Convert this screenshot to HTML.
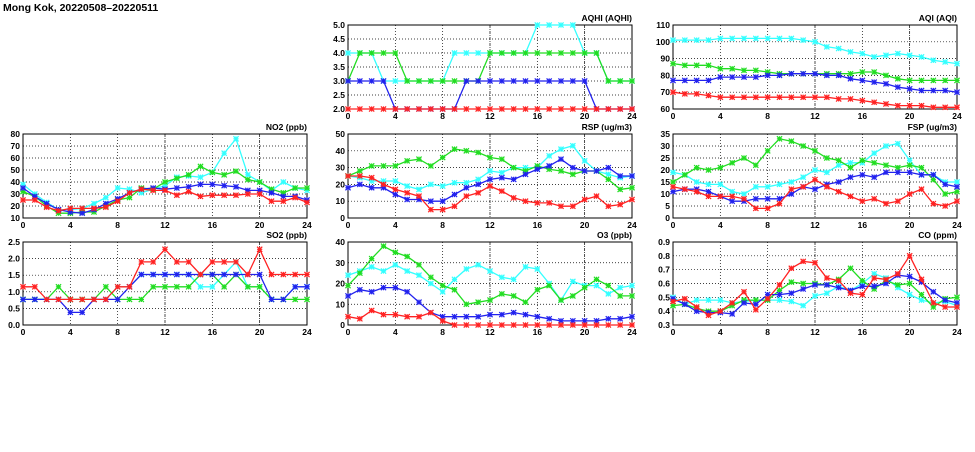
<!DOCTYPE html>
<html><head><meta charset="utf-8">
<style>
body{margin:0;background:#fff;width:975px;height:447px;overflow:hidden}
svg text{font-family:"Liberation Sans",sans-serif;font-weight:bold;fill:#000}
</style></head>
<body>
<svg id="c" width="975" height="447">
<text x="3" y="11" font-size="10.5">Mong Kok, 20220508–20220511</text>
</svg>
<script>
const hours=[0,1,2,3,4,5,6,7,8,9,10,11,12,13,14,15,16,17,18,19,20,21,22,23,24];
const seriesColors=["#33ffff","#22dd22","#2222ee","#ff2222"];
const no2Cyan=[38,30,23,17,17,18,22,27,35,34,31,34,37,44,45,44,48,64,76,46,40,33,40,35,33];
const no2Green=[32,28,20,14,14,15,15,20,25,27,35,34,40,43,46,53,48,46,49,42,40,34,31,35,35];
const no2Blue=[35,28,22,17,15,14,17,22,26,31,34,35,34,35,36,38,38,37,36,33,33,31,28,28,25];
const no2Red=[25,25,19,16,18,18,18,19,24,31,34,33,33,29,32,28,29,29,29,30,30,24,24,27,23];
const so2Cyan=[0.77,0.77,0.77,0.77,0.77,0.77,0.77,0.77,1.15,1.15,1.52,1.52,1.52,1.52,1.52,1.15,1.15,1.52,1.9,1.15,1.15,0.77,0.77,1.15,1.15];
const so2Green=[0.77,0.77,0.77,1.15,0.77,0.77,0.77,1.15,0.77,0.77,0.77,1.15,1.15,1.15,1.15,1.52,1.52,1.15,1.52,1.15,1.15,0.77,0.77,0.77,0.77];
const so2Blue=[0.77,0.77,0.77,0.77,0.38,0.38,0.77,0.77,0.77,1.15,1.52,1.52,1.52,1.52,1.52,1.52,1.52,1.52,1.52,1.52,1.52,0.77,0.77,1.15,1.15];
const so2Red=[1.15,1.15,0.77,0.77,0.77,0.77,0.77,0.77,1.15,1.15,1.9,1.9,2.28,1.9,1.9,1.52,1.9,1.9,1.9,1.52,2.28,1.52,1.52,1.52,1.52];
const aqhiCyan=[4,4,4,3,3,3,3,3,3,4,4,4,4,4,4,4,5,5,5,5,4,4,3,3,3];
const aqhiGreen=[3,4,4,4,4,3,3,3,3,3,3,3,4,4,4,4,4,4,4,4,4,4,3,3,3];
const aqhiBlue=[3,3,3,3,2,2,2,2,2,2,3,3,3,3,3,3,3,3,3,3,3,2,2,2,2];
const aqhiRed=[2,2,2,2,2,2,2,2,2,2,2,2,2,2,2,2,2,2,2,2,2,2,2,2,2];
const aqiCyan=[101,101,101,101,102,102,102,102,102,102,102,101,100,97,96,94,93,91,92,93,92,91,89,88,87];
const aqiGreen=[87,86,86,86,84,84,83,83,82,81,81,81,81,81,81,81,82,82,80,78,77,77,77,77,77];
const aqiBlue=[77,77,77,77,79,79,79,79,80,80,81,81,81,80,80,78,77,76,75,73,72,71,71,71,70];
const aqiRed=[70,69,69,68,67,67,67,67,67,67,67,67,67,67,66,66,65,64,63,62,62,62,61,61,61];
const rspCyan=[25,24,22,22,22,19,17,20,19,21,21,23,28,27,30,30,30,37,41,43,34,28,26,24,25];
const rspGreen=[25,28,31,31,31,34,35,31,36,41,40,39,36,35,30,28,31,29,28,26,28,28,23,17,18];
const rspBlue=[18,20,18,18,14,11,11,10,10,14,18,20,23,24,23,26,29,31,35,30,28,28,30,25,25];
const rspRed=[25,25,24,20,17,15,13,5,5,7,13,15,19,16,12,10,9,9,7,7,11,13,7,8,11];
const fspCyan=[19,18,15,14,14,11,10,13,13,14,15,17,20,19,22,23,23,27,30,31,24,18,18,15,15];
const fspGreen=[15,18,21,20,21,23,25,22,28,33,32,30,28,25,24,21,24,23,22,21,22,21,16,10,11];
const fspBlue=[11,12,12,11,9,7,7,8,8,8,10,13,12,14,15,17,18,17,19,19,19,18,18,14,13];
const fspRed=[13,12,11,9,9,9,8,4,4,6,12,13,16,13,11,9,7,8,6,7,10,12,6,5,7];
const o3Cyan=[24,26,28,26,29,26,24,20,16,22,27,29,26,23,22,28,27,20,12,21,19,19,15,18,19];
const o3Green=[19,25,32,38,35,33,29,23,19,17,10,11,12,15,14,11,17,19,12,14,18,22,19,14,14];
const o3Blue=[14,17,16,18,18,16,11,6,4,4,4,4,5,5,6,5,4,3,2,2,2,2,3,3,4];
const o3Red=[4,3,7,5,5,4,4,6,2,0,0,0,0,0,0,0,0,0,0,0,0,0,0,0,0];
const coCyan=[0.50,0.45,0.48,0.48,0.48,0.46,0.47,0.48,0.48,0.48,0.47,0.44,0.51,0.53,0.58,0.55,0.60,0.67,0.64,0.57,0.52,0.48,0.46,0.47,0.44];
const coGreen=[0.44,0.45,0.42,0.40,0.40,0.44,0.48,0.48,0.48,0.55,0.61,0.60,0.60,0.59,0.63,0.71,0.62,0.56,0.62,0.59,0.60,0.52,0.43,0.49,0.50];
const coBlue=[0.49,0.45,0.40,0.39,0.39,0.38,0.46,0.45,0.52,0.52,0.53,0.56,0.59,0.59,0.57,0.55,0.58,0.58,0.60,0.66,0.65,0.61,0.54,0.48,0.46];
const coRed=[0.47,0.49,0.43,0.37,0.40,0.46,0.54,0.41,0.49,0.59,0.71,0.76,0.75,0.64,0.62,0.53,0.52,0.64,0.63,0.67,0.80,0.63,0.46,0.43,0.43];
const xTicks=[0,4,8,12,16,20,24];

const panels=[
 {name:"no2",title:"NO2 (ppb)",x0:23,x1:307,top:134,bot:218,min:10,max:80,step:10,dec:0,data:[no2Cyan,no2Green,no2Blue,no2Red]},
 {name:"so2",title:"SO2 (ppb)",x0:23,x1:307,top:242,bot:325,min:0,max:2.5,step:0.5,dec:1,data:[so2Cyan,so2Green,so2Blue,so2Red]},
 {name:"aqhi",title:"AQHI (AQHI)",x0:348,x1:632,top:25,bot:109,min:2,max:5,step:0.5,dec:1,data:[aqhiCyan,aqhiGreen,aqhiBlue,aqhiRed]},
 {name:"aqi",title:"AQI (AQI)",x0:673,x1:957,top:25,bot:109,min:60,max:110,step:10,dec:0,data:[aqiCyan,aqiGreen,aqiBlue,aqiRed]},
 {name:"rsp",title:"RSP (ug/m3)",x0:348,x1:632,top:134,bot:218,min:0,max:50,step:10,dec:0,data:[rspCyan,rspGreen,rspBlue,rspRed]},
 {name:"fsp",title:"FSP (ug/m3)",x0:673,x1:957,top:134,bot:218,min:0,max:35,step:5,dec:0,data:[fspCyan,fspGreen,fspBlue,fspRed]},
 {name:"o3",title:"O3 (ppb)",x0:348,x1:632,top:242,bot:325,min:0,max:40,step:10,dec:0,data:[o3Cyan,o3Green,o3Blue,o3Red]},
 {name:"co",title:"CO (ppm)",x0:673,x1:957,top:242,bot:325,min:0.3,max:0.9,step:0.1,dec:1,data:[coCyan,coGreen,coBlue,coRed]}
];
const svg=document.getElementById('c');
const NS="http://www.w3.org/2000/svg";
function mk(tag,attrs,parent){const e=document.createElementNS(NS,tag);for(const k in attrs)e.setAttribute(k,attrs[k]);parent.appendChild(e);return e;}
panels.forEach(p=>{
 const g=mk('g',{},svg);
 
 
 const xs=v=>p.x0+(v-0)/24*(p.x1-p.x0);
 const ys=v=>p.bot-(v-p.min)/(p.max-p.min)*(p.bot-p.top);
 const n=Math.round((p.max-p.min)/p.step);
 for(let i=0;i<=n;i++){
  const v=p.min+i*p.step;const y=ys(v);
  if(i>0&&i<n){const l=mk('line',{x1:p.x0,x2:p.x1,y1:y,y2:y,stroke:"#000","stroke-width":0.7,"stroke-dasharray":"1,2"},g);
   }
  const t=mk('text',{x:p.x0-3,y:y+3,"font-size":8.5,"text-anchor":"end"},g);
  t.textContent=v.toFixed(p.dec);
  
 }
 xTicks.forEach(h=>{
  const x=xs(h);
  if(h>0&&h<24){const l=mk('line',{x1:x,x2:x,y1:p.top,y2:p.bot,stroke:"#000","stroke-width":0.7,"stroke-dasharray":(h==12||h==20)?"3,1,1,1":"1,2"},g);
   }
  const t=mk('text',{x:x,y:p.bot+10,"font-size":8.5,"text-anchor":"middle"},g);
  t.textContent=h;
  
 });
 const fr=mk('rect',{x:p.x0,y:p.top,width:p.x1-p.x0,height:p.bot-p.top,fill:"none",stroke:"#000","stroke-width":1},g);
 
 const tt=mk('text',{x:p.x1,y:p.top-4,"font-size":8.5,"text-anchor":"end"},g);
 tt.textContent=p.title;
 
 p.data.forEach((arr,si)=>{
  const col=seriesColors[si];
  const pts=arr.map((v,i)=>xs(hours[i]).toFixed(1)+","+ys(v).toFixed(1)).join(" ");
  const pl=mk('polyline',{points:pts,fill:"none",stroke:col,"stroke-width":1.3},g);
  
  arr.forEach((v,i)=>{
   const x=xs(hours[i]),y=ys(v),r=2.6;
   const m=mk('path',{d:`M${x-r},${y}H${x+r}M${x},${y-r}V${y+r}M${x-r},${y-r}L${x+r},${y+r}M${x-r},${y+r}L${x+r},${y-r}`,stroke:col,"stroke-width":1.2},g);
   
  });
 });
});
</script>
</body></html>
